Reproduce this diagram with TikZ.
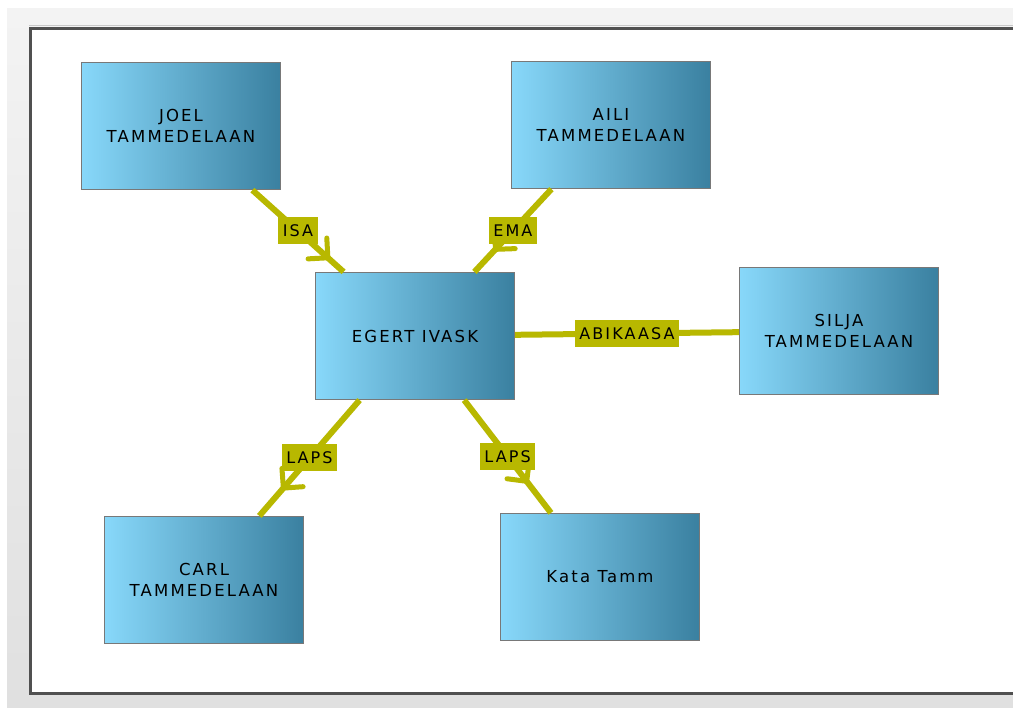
\documentclass[tikz,border=0pt]{standalone}
\usepackage{fontspec}
\newfontfamily\boxfont[LetterSpace=13]{DejaVu Sans}
\usetikzlibrary{decorations.markings}
\definecolor{linkcol}{RGB}{184,184,0}
\definecolor{boxleft}{RGB}{136,216,250}
\definecolor{boxright}{RGB}{58,128,160}
\definecolor{boxedge}{RGB}{120,120,120}
\definecolor{framecol}{RGB}{80,80,80}
\definecolor{paneltop}{RGB}{243,243,243}
\definecolor{panelbot}{RGB}{224,224,224}
\definecolor{rimcol}{RGB}{200,200,200}
\tikzset{
  person/.style={draw=boxedge, line width=1.2pt, shading=axis, left color=boxleft,
    right color=boxright, shading angle=90, minimum width=199pt, minimum height=127pt,
    inner sep=0pt, align=center, font=\boxfont\fontsize{16.5}{21}\selectfont},
  link/.style={draw=linkcol, line width=6pt},
  barb/.style={draw=linkcol, line width=5pt, line cap=round, line join=round},
  arrowat/.style={postaction={decorate}, decoration={markings,
    mark=at position #1 with {\draw[barb] (-14pt,14pt) -- (0pt,0pt) -- (-14pt,-14pt);}}},
  lbl/.style={fill=linkcol, inner xsep=4.5pt, inner ysep=0pt, minimum height=27pt,
    font=\boxfont\fontsize{16}{18}\selectfont},
}
\begin{document}
\begin{tikzpicture}[x=1pt, y=-1pt]
\useasboundingbox (0,0) rectangle (1013,708);
% page and panel background
\fill[white] (0,0) rectangle (1013,708);
\shade[top color=paneltop, bottom color=panelbot] (7,9) rectangle (1013,708);
\draw[line width=1pt, rimcol] (29,26) -- (1013,26);
\filldraw[fill=white, draw=framecol, line width=3pt] (30.5,28.5) rectangle (1030,693.5);

% people
\node[person] (joel)  at (181,126) {JOEL\\TAMMEDELAAN};
\node[person] (aili)  at (611,125) {AILI\\TAMMEDELAAN};
\node[person] (egert) at (415,336) {EGERT IVASK};
\node[person] (silja) at (839,331) {SILJA\\TAMMEDELAAN};
\node[person] (carl)  at (204,580) {CARL\\TAMMEDELAAN};
\node[person] (kata)  at (600,577) {Kata Tamm};

% relations
\draw[link, arrowat=0.83] (joel) -- (egert);
\draw[link, arrowat=0.73] (aili) -- (egert);
\draw[link] (egert) -- (silja);
\draw[link, arrowat=0.76] (egert) -- (carl);
\draw[link, arrowat=0.72] (egert) -- (kata);

% relation labels
\path (joel) -- (egert) node[lbl, midway] (l1) {ISA};
\path (aili) -- (egert) node[lbl, midway] (l2) {EMA};
\path (egert) -- (silja) node[lbl, midway] (l3) {ABIKAASA};
\path (egert) -- (carl) node[lbl, midway] (l4) {LAPS};
\path (egert) -- (kata) node[lbl, midway] (l5) {LAPS};
\end{tikzpicture}
\end{document}
